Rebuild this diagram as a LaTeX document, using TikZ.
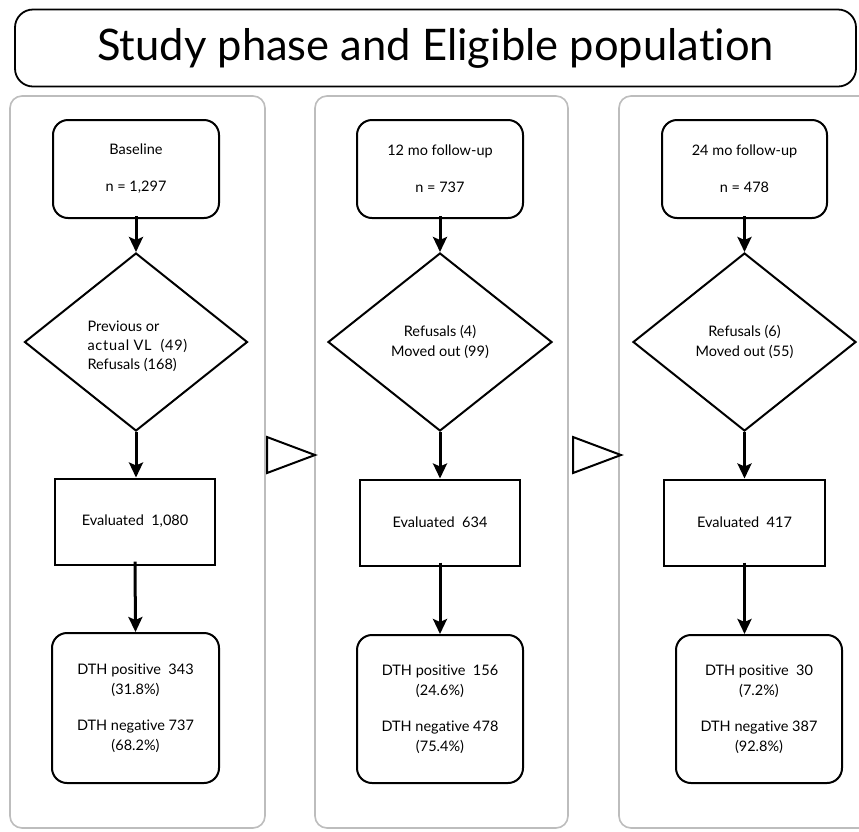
\documentclass[tikz,border=0pt]{standalone}
\usepackage{fontspec}
\setmainfont{Lato}[Ligatures=NoCommon]
\usetikzlibrary{shapes.geometric,arrows.meta}
\definecolor{panelgray}{HTML}{BDBDBD}
\tikzset{
  panel/.style={draw=panelgray, line width=1.6pt, rounded corners=12pt},
  titlebox/.style={draw, line width=1.8pt, rounded corners=18pt},
  rbox/.style={draw, line width=2pt, rounded corners=15pt, align=center, inner sep=0pt,
    font=\fontsize{14.5}{20}\selectfont},
  sbox/.style={draw, line width=2pt, align=center, inner sep=0pt, minimum width=160pt, minimum height=86pt,
    font=\fontsize{14.5}{20}\selectfont},
  dbox/.style={draw, diamond, line width=2pt, inner sep=0pt, align=center, minimum width=223pt, minimum height=178pt,
    font=\fontsize{14.5}{20}\selectfont},
  flow/.style={line width=3pt, -{Stealth[length=15pt,width=14pt,inset=3pt]}},
  tri/.style={draw, line width=2pt, fill=white, line join=miter}
}
\begin{document}
\begin{tikzpicture}[x=1pt,y=-1pt]
\useasboundingbox (0,0) rectangle (859,831);
\clip (0,0) rectangle (859,831);
\fill[white] (0,0) rectangle (859,831);
% title
\node[titlebox, minimum width=841pt, minimum height=77pt, font=\fontsize{43.5}{48}\selectfont] (title) at (435.5,48) {Study phase and Eligible population};
% panels
\draw[panel] (10,96) rectangle (265,828);
\draw[panel] (315,96) rectangle (568,828);
\draw[panel] (619,96) rectangle (890,828);
% column 1
\node[rbox, minimum width=166pt, minimum height=98pt] (b1) at (136,169) {Baseline\\[17pt]n = 1,297};
\node[dbox] (d1) at (136,342) {};
\node[align=left, anchor=west, font=\fontsize{14.5}{19}\selectfont] (t1) at (84,346) {Previous or\\{\addfontfeatures{LetterSpace=5}actual VL\ \ (49)}\\Refusals (168)};
\node[sbox] (e1) at (135,521.5) {Evaluated\ \ 1,080};
\node[rbox, minimum width=167pt, minimum height=150pt] (r1) at (135.5,708) {DTH positive\ \ 343\\(31.8\%)\\[16pt]DTH negative 737\\(68.2\%)};
% column 2
\node[rbox, minimum width=166pt, minimum height=98pt] (b2) at (440,169) {12 mo follow-up\\[17pt]n = 737};
\node[dbox, minimum width=224pt] (d2) at (440,342) {Refusals (4)\\Moved out (99)};
\node[sbox] (e2) at (440,522.5) {Evaluated\ \ 634};
\node[rbox, minimum width=166pt, minimum height=148pt] (r2) at (440,709) {DTH positive\ \ 156\\(24.6\%)\\[16pt]DTH negative 478\\(75.4\%)};
% column 3
\node[rbox, minimum width=165pt, minimum height=98pt] (b3) at (744.5,169) {24 mo follow-up\\[17pt]n = 478};
\node[dbox] (d3) at (744.5,342) {Refusals (6)\\Moved out (55)};
\node[sbox, minimum width=161pt] (e3) at (744.5,522.5) {Evaluated\ \ 417};
\node[rbox, minimum width=166pt, minimum height=148pt] (r3) at (759,709) {DTH positive\ \ 30\\(7.2\%)\\[16pt]DTH negative 387\\(92.8\%)};
% connectors
\draw[flow] ([yshift=3pt]b1.south) -- (d1.north);
\draw[flow] (d1.south) -- (e1.north -| d1.south);
\draw[flow] ([yshift=4pt]e1.south) -- (r1.north);
\draw[flow] ([yshift=3pt]b2.south) -- (d2.north);
\draw[flow] (d2.south) -- (e2.north);
\draw[flow] ([yshift=4pt]e2.south) -- (r2.north -| e2.south);
\draw[flow] ([yshift=3pt]b3.south) -- (d3.north);
\draw[flow] (d3.south) -- (e3.north);
\draw[flow] ([yshift=4pt]e3.south) -- (r3.north -| e3.south);
% phase triangles
\draw[tri] (267,437) -- (315,455) -- (267,473) -- cycle;
\draw[tri] (573,437) -- (621,455) -- (573,473) -- cycle;
\end{tikzpicture}
\end{document}
